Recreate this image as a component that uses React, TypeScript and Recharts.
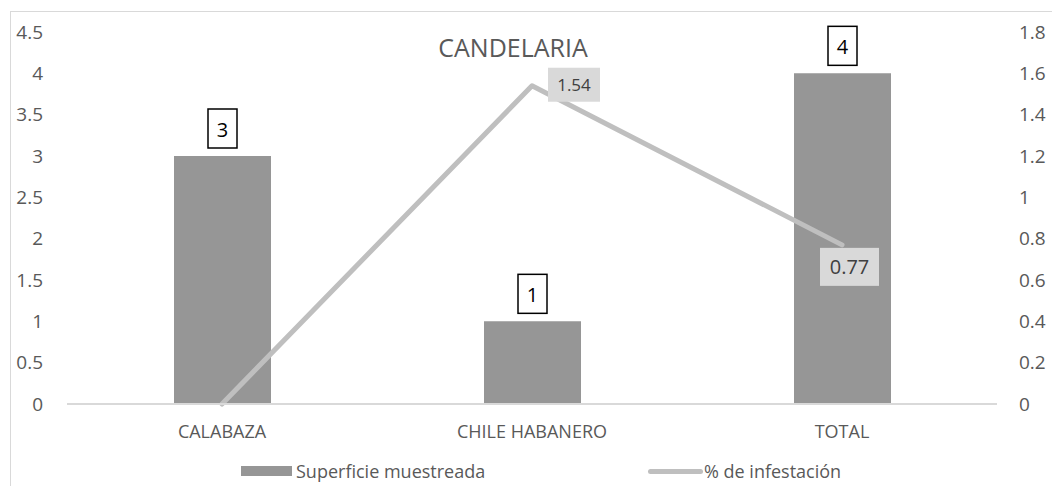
import React from 'react';
import {
  ComposedChart,
  Bar,
  Line,
  XAxis,
  YAxis,
  Legend,
  LabelList,
} from 'recharts';

const categories = ['CALABAZA', 'CHILE HABANERO', 'TOTAL'];
const superficie = [3, 1, 4];
const infestacion = [0, 1.54, 0.77];
const leftTicks = [0, 0.5, 1, 1.5, 2, 2.5, 3, 3.5, 4, 4.5];
const rightTicks = [0, 0.2, 0.4, 0.6, 0.8, 1, 1.2, 1.4, 1.6, 1.8];

const data = categories.map((cat, i) => ({
  cat,
  superficie: superficie[i],
  infestacion: infestacion[i],
}));

const FONT = '"Open Sans", "Noto Sans", sans-serif';
const TEXT = '#595959';

const fmt = (v: number) => String(Number(v.toFixed(2)));

// boxed white label above each bar
const BarValueLabel = (props: any) => {
  const { x, y, width, value } = props;
  const cx = Number(x) + Number(width) / 2;
  const top = Number(y);
  return (
    <g>
      <rect x={cx - 14.5} y={top - 47} width={29} height={39} fill="#fff" stroke="#000" strokeWidth={1.5} />
      <text x={cx} y={top - 27} textAnchor="middle" dominantBaseline="central" fontSize={20} fill="#000">
        {value}
      </text>
    </g>
  );
};

// grey filled label next to the line points (zero is not labelled)
const LineValueLabel = (props: any) => {
  const { x, y, value, index } = props;
  if (!value) return null;
  const px = Number(x);
  const py = Number(y);
  const box =
    index === 1
      ? { x: px + 16, y: py - 18, w: 52, h: 34, fs: 17 }
      : { x: px - 22, y: py + 3, w: 59, h: 38, fs: 20 };
  return (
    <g>
      <rect x={box.x} y={box.y} width={box.w} height={box.h} fill="#d9d9d9" />
      <text
        x={box.x + box.w / 2}
        y={box.y + box.h / 2}
        textAnchor="middle"
        dominantBaseline="central"
        fontSize={box.fs}
        fill="#404040"
      >
        {value}
      </text>
    </g>
  );
};

const ChartLegend = () => (
  <div style={{ position: 'relative', height: 24, fontSize: 18, color: TEXT, fontFamily: FONT }}>
    <div style={{ position: 'absolute', left: 241, top: 0, display: 'flex', alignItems: 'center', height: 24 }}>
      <span style={{ display: 'inline-block', width: 51, height: 10, background: '#969696', marginRight: 4 }} />
      <span>Superficie muestreada</span>
    </div>
    <div style={{ position: 'absolute', left: 648, top: 0, display: 'flex', alignItems: 'center', height: 24 }}>
      <span style={{ display: 'inline-block', width: 55, height: 5, borderRadius: 3, background: '#bfbfbf', marginRight: 1 }} />
      <span>% de infestación</span>
    </div>
  </div>
);

export default function App() {
  return (
    <div
      style={{
        position: 'absolute',
        left: 0,
        top: 0,
        width: 1052,
        height: 486,
        overflow: 'hidden',
        background: '#fff',
        fontFamily: FONT,
      }}
    >
      <div
        style={{
          position: 'absolute',
          left: 10,
          top: 11,
          width: 1200,
          height: 600,
          border: '1.5px solid #d9d9d9',
        }}
      />
      <div
        style={{
          position: 'absolute',
          left: 313,
          width: 400,
          top: 30,
          textAlign: 'center',
          fontSize: 25,
          lineHeight: '34px',
          color: TEXT,
        }}
      >
        CANDELARIA
      </div>
      <div style={{ position: 'absolute', left: 0, top: 0 }}>
        <ComposedChart
          width={1052}
          height={486}
          data={data}
          margin={{ top: 32, right: 0, bottom: 28, left: 0 }}
          barCategoryGap="34%"
        >
          <XAxis
            dataKey="cat"
            height={30}
            axisLine={{ stroke: '#d9d9d9', strokeWidth: 2 }}
            tickLine={false}
            tickMargin={15}
            tick={{ fill: TEXT, fontSize: 18 }}
            interval={0}
          />
          <YAxis
            yAxisId="left"
            width={67}
            domain={[0, 4.5]}
            ticks={leftTicks}
            tickFormatter={fmt}
            axisLine={false}
            tickLine={false}
            tickMargin={18}
            tick={{ fill: TEXT, fontSize: 19 }}
            interval={0}
          />
          <YAxis
            yAxisId="right"
            orientation="right"
            width={55}
            domain={[0, 1.8]}
            ticks={rightTicks}
            tickFormatter={fmt}
            axisLine={false}
            tickLine={false}
            tickMargin={16}
            tick={{ fill: TEXT, fontSize: 19, textAnchor: 'start' }}
            interval={0}
          />
          <Legend
            verticalAlign="bottom"
            content={<ChartLegend />}
            wrapperStyle={{ position: 'absolute', left: 0, top: 459, width: 1052, height: 24 }}
          />
          <Bar
            yAxisId="left"
            dataKey="superficie"
            name="Superficie muestreada"
            fill="#969696"
            barSize={97}
            isAnimationActive={false}
          >
            <LabelList dataKey="superficie" content={<BarValueLabel />} />
          </Bar>
          <Line
            yAxisId="right"
            type="linear"
            dataKey="infestacion"
            name="% de infestación"
            stroke="#bfbfbf"
            strokeWidth={5}
            strokeLinecap="round"
            strokeLinejoin="round"
            dot={false}
            activeDot={false}
            isAnimationActive={false}
          >
            <LabelList dataKey="infestacion" content={<LineValueLabel />} />
          </Line>
        </ComposedChart>
      </div>
    </div>
  );
}
